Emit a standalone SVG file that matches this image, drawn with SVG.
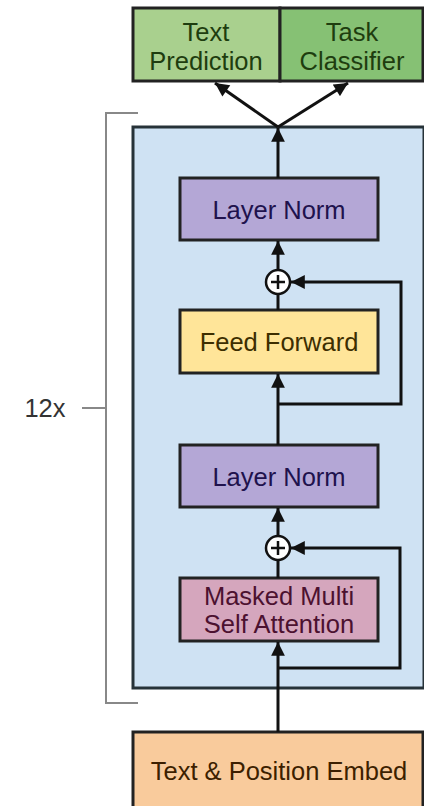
<svg xmlns="http://www.w3.org/2000/svg" width="424" height="806" viewBox="0 0 424 806">
<defs>
<marker id="ah" viewBox="0 0 10 10" refX="10" refY="5" markerWidth="5" markerHeight="4.6" orient="auto" markerUnits="strokeWidth">
<path d="M0,0 L10,5 L0,10 z" fill="#111"/>
</marker>
</defs>
<style>
.box{stroke:#222;stroke-width:3}
.t{font-family:"Liberation Sans",Arial,sans-serif;font-size:25.5px;text-anchor:middle;dominant-baseline:central}
.con{fill:none;stroke:#111;stroke-width:3}
.br{fill:none;stroke:#888;stroke-width:2}
</style>
<rect width="424" height="806" fill="#fff"/>
<g id="bracket">
<path class="br" d="M138,113 H106 V703 H138"/>
<line class="br" x1="82" y1="408" x2="106" y2="408"/>
<text class="t" x="45" y="408" fill="#333">12x</text>
</g>
<g id="container">
<rect x="133" y="127" width="291" height="561" fill="#cfe2f3" stroke="#263238" stroke-width="3"/>
</g>
<g id="text-prediction">
<rect class="box" x="133" y="8" width="147" height="73" fill="#a9d08e"/>
<text class="t" x="206" y="32" fill="#1e3d0f">Text</text>
<text class="t" x="206" y="61" fill="#1e3d0f">Prediction</text>
</g>
<g id="task-classifier">
<rect class="box" x="280" y="8" width="143" height="73" fill="#86c174"/>
<text class="t" x="352" y="32" fill="#1e3d0f">Task</text>
<text class="t" x="352" y="61" fill="#1e3d0f">Classifier</text>
</g>
<g id="layer-norm-1">
<rect class="box" x="180" y="178" width="198" height="62" fill="#b4a7d6"/>
<text class="t" x="279" y="210" fill="#20124d">Layer Norm</text>
</g>
<g id="add-1">
<circle cx="278" cy="282" r="12" fill="#fff" stroke="#111" stroke-width="2.5"/>
<path d="M271,282 H285 M278,275 V289" stroke="#111" stroke-width="2.5"/>
</g>
<g id="feed-forward">
<rect class="box" x="180" y="310" width="198" height="63" fill="#ffe599"/>
<text class="t" x="279" y="342" fill="#3d2e00">Feed Forward</text>
</g>
<g id="layer-norm-2">
<rect class="box" x="180" y="445" width="198" height="62" fill="#b4a7d6"/>
<text class="t" x="279" y="477" fill="#20124d">Layer Norm</text>
</g>
<g id="add-2">
<circle cx="278" cy="548" r="12" fill="#fff" stroke="#111" stroke-width="2.5"/>
<path d="M271,548 H285 M278,541 V555" stroke="#111" stroke-width="2.5"/>
</g>
<g id="masked-attention">
<rect class="box" x="180" y="578" width="198" height="63" fill="#d5a6bd"/>
<text class="t" x="279" y="596" fill="#4c1130">Masked Multi</text>
<text class="t" x="279" y="624" fill="#4c1130">Self Attention</text>
</g>
<g id="embed">
<rect class="box" x="133" y="732" width="290" height="76" fill="#f9cb9c"/>
<text class="t" x="279" y="771" fill="#3d1f00">Text &amp; Position Embed</text>
</g>
<g id="connectors">
<line class="con" x1="278" y1="178" x2="278" y2="128" marker-end="url(#ah)"/>
<line class="con" x1="278" y1="127" x2="215" y2="83" marker-end="url(#ah)"/>
<line class="con" x1="278" y1="127" x2="348" y2="83" marker-end="url(#ah)"/>
<line class="con" x1="278" y1="270" x2="278" y2="241" marker-end="url(#ah)"/>
<line class="con" x1="278" y1="310" x2="278" y2="294"/>
<line class="con" x1="278" y1="445" x2="278" y2="374" marker-end="url(#ah)"/>
<path class="con" d="M278,404 H401 V282 H291" marker-end="url(#ah)"/>
<line class="con" x1="278" y1="536" x2="278" y2="508" marker-end="url(#ah)"/>
<line class="con" x1="278" y1="578" x2="278" y2="560"/>
<line class="con" x1="278" y1="732" x2="278" y2="642" marker-end="url(#ah)"/>
<path class="con" d="M278,668 H400 V548 H291" marker-end="url(#ah)"/>
</g>
</svg>
